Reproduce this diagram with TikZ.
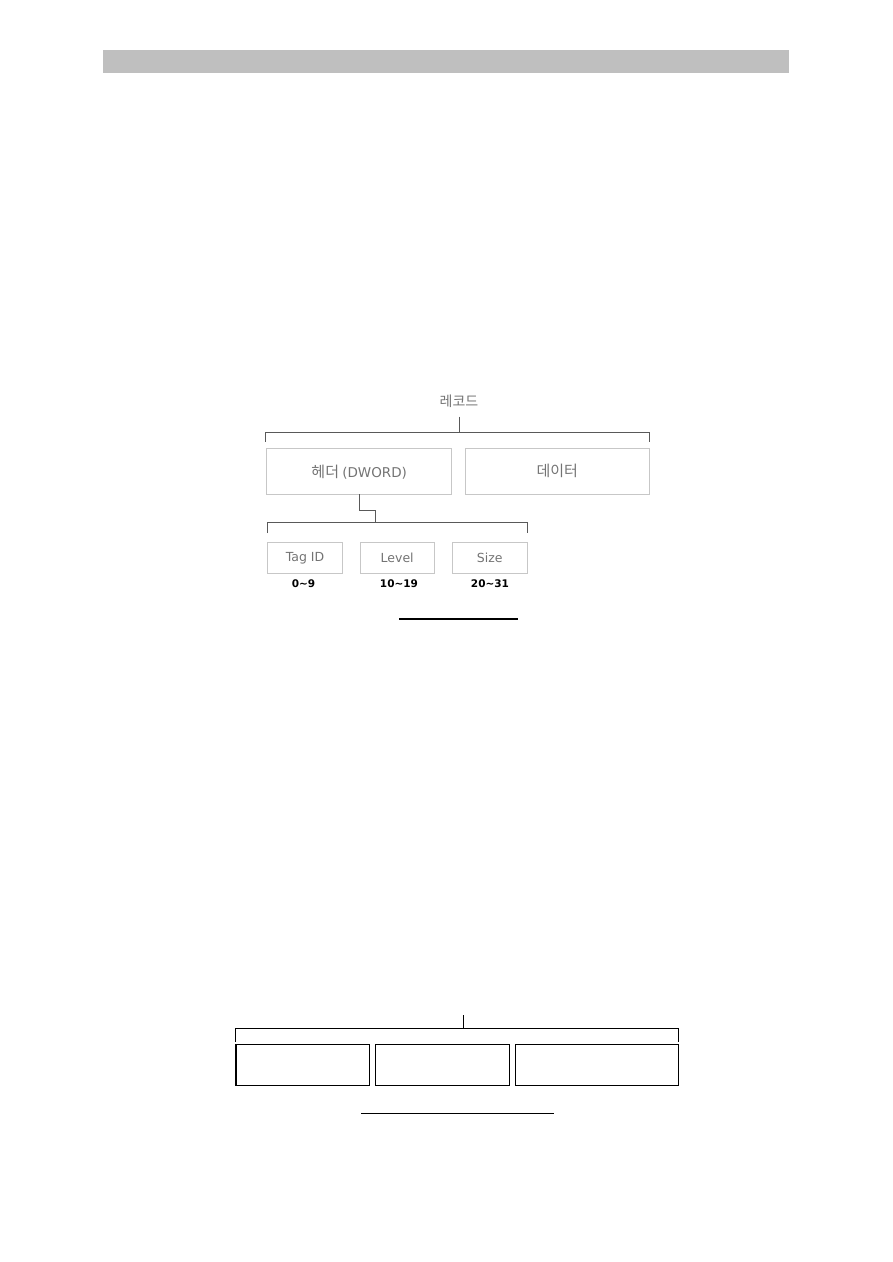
\documentclass[tikz,border=0pt]{standalone}
\usepackage{fontspec}
\setmainfont{DejaVu Sans}
\newfontfamily\kr{Noto Sans CJK KR}
\begin{document}
\begin{tikzpicture}[x=1pt,y=-1pt,
  lightbox/.style={draw=black!22,line width=0.8pt,inner sep=0pt,outer sep=0pt,text=black!55},
  darkbox/.style={draw=black,line width=1.3pt,inner sep=0pt,outer sep=0pt},
  bracketline/.style={draw=black!65,line width=0.9pt},
  blackline/.style={draw=black,line width=1.3pt},
  smalltext/.style={font=\fontsize{12.5}{14}\selectfont},
  bitlabel/.style={font=\bfseries\fontsize{10.5}{12}\selectfont,inner sep=0pt}]
\useasboundingbox (0,0) rectangle (893,1262);
% header bar
\fill[fill=black!25] (103,50) rectangle (789,73);

% top diagram
\node[text=black!55,font=\kr\fontsize{14}{16}\selectfont,inner sep=0pt] (rec) at (459,401.5) {레코드};
\coordinate (b1top) at (459,432.7);
\coordinate (b1l) at (265.7,441.7);
\coordinate (b1r) at (649.3,441.7);
\draw[bracketline] (b1l) |- (b1top) -| (b1r);
\draw[bracketline] (459,416.7) -- (b1top);

\node[lightbox,minimum width=185pt,minimum height=46pt] (hdr) at (359.2,471.3) {};
\node[text=black!55,inner sep=0pt] (hdrtxt) at (359.2,472.5) {{\kr\fontsize{15}{17}\selectfont 헤더} {\fontsize{13.5}{15}\selectfont (DWORD)}};
\node[lightbox,minimum width=184.3pt,minimum height=46pt,font=\kr\fontsize{15}{17}\selectfont] (dat) at (557.2,471.3) {데이터};

\coordinate (b2top) at (375,522.7);
\coordinate (b2l) at (267.7,533);
\coordinate (b2r) at (527.3,533);
\draw[bracketline] (b2l) |- (b2top) -| (b2r);
\draw[bracketline] (hdr.south) -- (359.2,510) -| (b2top);

\node[lightbox,minimum width=74.6pt,minimum height=31pt,smalltext] (tag) at (305,557.8) {Tag ID};
\node[lightbox,minimum width=74.3pt,minimum height=31pt,smalltext] (lev) at (397.2,557.8) {Level};
\node[lightbox,minimum width=75pt,minimum height=31pt,smalltext] (siz) at (489.8,557.8) {Size};

\node[bitlabel] (l1) at (303.5,583.5) {0\char`~9};
\node[bitlabel] (l2) at (399,583.5) {10\char`~19};
\node[bitlabel] (l3) at (490,583.5) {20\char`~31};

\draw[blackline] (399,619) -- (518,619);

% bottom diagram
\coordinate (b3top) at (463.7,1028.3);
\coordinate (b3l) at (235.7,1041.7);
\coordinate (b3r) at (678.7,1041.7);
\draw[blackline] (b3l) |- (b3top) -| (b3r);
\draw[blackline] (463.7,1015) -- (b3top);

\node[darkbox,minimum width=133.7pt,minimum height=41pt] (c1) at (302.9,1064.8) {};
\node[darkbox,minimum width=134.4pt,minimum height=41pt] (c2) at (442.5,1064.8) {};
\node[darkbox,minimum width=163.4pt,minimum height=41pt] (c3) at (597,1064.8) {};

\draw[blackline] (361,1113.3) -- (554.3,1113.3);
\end{tikzpicture}
\end{document}
